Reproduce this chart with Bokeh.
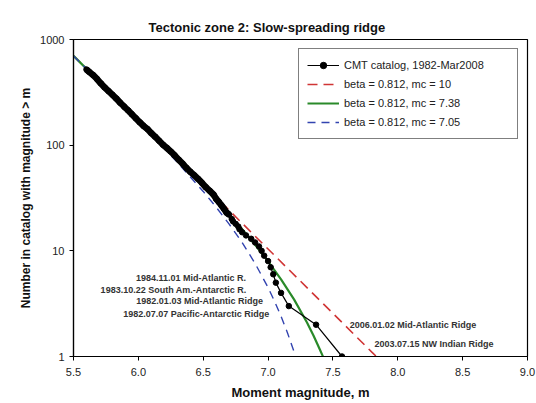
from bokeh.plotting import figure
from bokeh.models import (Range1d, FixedTicker, NumeralTickFormatter, Label,
                          Legend, LegendItem, ColumnDataSource)
from bokeh.embed import file_html
from bokeh.resources import INLINE

# ---------------- data ----------------
title_text = "Tectonic zone 2: Slow-spreading ridge"
x_title = "Moment magnitude, m"
y_title = "Number in catalog with magnitude > m"

x_ticks = [5.5, 6.0, 6.5, 7.0, 7.5, 8.0, 8.5, 9.0]
y_ticks = [1, 10, 100, 1000]

# CMT catalog cumulative counts (number with magnitude >= m)
cmt_mag = [5.60, 5.62, 5.65, 5.68, 5.71, 5.74, 5.77, 5.80, 5.83, 5.86, 5.89,
           5.92, 5.95, 5.98, 6.01, 6.04, 6.07, 6.10, 6.13, 6.16, 6.19, 6.22,
           6.25, 6.28, 6.31, 6.34, 6.37, 6.40, 6.43, 6.46, 6.49, 6.52, 6.55,
           6.58, 6.60, 6.62, 6.64, 6.66, 6.68, 6.70, 6.72, 6.73, 6.75, 6.77,
           6.78, 6.80, 6.83, 6.87, 6.90, 6.93, 6.95, 6.97, 7.00, 7.02, 7.04,
           7.06, 7.10, 7.16, 7.37, 7.57]
cmt_num = [520, 495, 462, 425, 385, 352, 325, 300, 276, 252, 232,
           214, 196, 180, 165, 152, 142, 130, 120, 110, 101, 94,
           87, 80, 73, 67, 61, 56, 52, 48, 44, 40, 37,
           34, 31, 29, 27, 25, 23, 22, 20, 19, 18, 17,
           16, 15, 14, 13, 12, 11, 10, 9, 8, 7, 6,
           5, 4, 3, 2, 1]

# tapered Gutenberg-Richter curves
red_mag = [5.5, 6.0, 6.5, 7.0, 7.5, 7.8, 7.85]
red_num = [700, 172, 42.4, 10.4, 2.56, 1.10, 0.96]

green_mag = [5.5, 5.7, 5.9, 6.1, 6.3, 6.5, 6.6, 6.7, 6.8, 6.9, 7.0, 7.1,
             7.2, 7.3, 7.35, 7.4, 7.42, 7.44]
green_num = [700, 398, 226, 128.5, 72.5, 40.4, 29.9, 22.0, 16.0, 11.4, 7.96,
             5.38, 3.47, 2.10, 1.58, 1.16, 1.02, 0.89]

blue_mag = [5.5, 5.7, 5.9, 6.1, 6.3, 6.5, 6.6, 6.7, 6.8, 6.9, 7.0, 7.05,
            7.1, 7.15, 7.2, 7.22]
blue_num = [700, 395, 224, 125, 69, 36.5, 25.9, 17.9, 12.0, 7.6, 4.5, 3.33,
            2.40, 1.67, 1.11, 0.93]

legend_labels = ["CMT catalog, 1982-Mar2008", "beta = 0.812, mc = 10",
                 "beta = 0.812, mc = 7.38", "beta = 0.812, mc = 7.05"]

left_notes = ["1984.11.01 Mid-Atlantic R.", "1983.10.22 South Am.-Antarctic R.",
              "1982.01.03 Mid-Atlantic Ridge", "1982.07.07 Pacific-Antarctic Ridge"]
left_notes_x = [6.83, 6.835, 6.96, 7.01]
left_notes_y = [5.55, 4.3, 3.33, 2.55]

right_notes = ["2006.01.02 Mid-Atlantic Ridge", "2003.07.15 NW Indian Ridge"]
right_notes_x = [7.63, 7.82]
right_notes_y = [2.0, 1.32]

FONT = "Liberation Sans"

p = figure(width=536, height=403, title=title_text,
           x_range=Range1d(5.5, 9.0), y_range=Range1d(1, 1000),
           y_axis_type="log", output_backend="svg", toolbar_location=None,
           min_border_left=73, min_border_right=9, min_border_top=39,
           min_border_bottom=47)
p.title.text_font = FONT
p.title.text_font_size = "13px"
p.title.text_font_style = "bold"
p.title.text_color = "#111111"
p.title.align = "left"
p.title.offset = 75
p.title.standoff = 10

p.grid.visible = False
p.outline_line_color = "black"
p.outline_line_width = 1.2
p.outline_line_alpha = 1.0
p.background_fill_color = "white"
p.border_fill_color = "white"

p.xaxis.ticker = FixedTicker(ticks=x_ticks)
p.xaxis.formatter = NumeralTickFormatter(format="0.0")
p.yaxis.ticker = FixedTicker(ticks=y_ticks)
p.yaxis.formatter = NumeralTickFormatter(format="0")
for ax in (p.xaxis, p.yaxis):
    ax.minor_tick_line_color = None
    ax.major_tick_in = 0
    ax.major_tick_out = 4
    ax.major_tick_line_color = "black"
    ax.axis_line_color = "black"
    ax.axis_line_width = 1.2
    ax.major_label_text_font = FONT
    ax.major_label_text_font_size = "11px"
    ax.major_label_text_color = "#222222"
    ax.axis_label_text_font = FONT
    ax.axis_label_text_font_style = "bold"
    ax.axis_label_text_color = "#111111"
p.xaxis.major_label_standoff = 7
p.yaxis.major_label_standoff = 5
p.xaxis.axis_label = x_title
p.yaxis.axis_label = y_title
p.xaxis.axis_label_text_font_size = "13px"
p.yaxis.axis_label_text_font_size = "12px"
p.xaxis.axis_label_standoff = 6
p.yaxis.axis_label_standoff = 4

# model curves
r_red = p.line(red_mag, red_num, line_color="#d03535", line_width=1.6,
               line_dash="10 6")
r_green = p.line(green_mag, green_num, line_color="#2a8a2a", line_width=2.2)
r_blue = p.line(blue_mag, blue_num, line_color="#3344b0", line_width=1.4,
                line_dash="8 6")

# data
src = ColumnDataSource(dict(m=cmt_mag, n=cmt_num))
dense = ColumnDataSource(dict(m=[v for v, c in zip(cmt_mag, cmt_num) if c >= 22],
                              n=[c for c in cmt_num if c >= 22]))
p.line("m", "n", source=dense, line_color="black", line_width=6.5)
r_cl = p.line("m", "n", source=src, line_color="black", line_width=1.2)
r_cp = p.scatter("m", "n", source=src, marker="circle", size=5.5,
                 fill_color="black", line_color="black")

legend = Legend(items=[
    LegendItem(label=legend_labels[0], renderers=[r_cl, r_cp]),
    LegendItem(label=legend_labels[1], renderers=[r_red]),
    LegendItem(label=legend_labels[2], renderers=[r_green]),
    LegendItem(label=legend_labels[3], renderers=[r_blue]),
], location="top_right")
legend.margin = 9
legend.padding = 8
legend.spacing = 3
legend.label_height = 16
legend.glyph_height = 16
legend.glyph_width = 32
legend.label_standoff = 5
legend.label_width = 165
legend.label_text_font = FONT
legend.label_text_font_size = "11px"
legend.label_text_color = "#222222"
legend.border_line_color = "black"
legend.border_line_width = 1
legend.background_fill_color = "white"
legend.background_fill_alpha = 1
p.add_layout(legend)

for t, x, y in zip(left_notes, left_notes_x, left_notes_y):
    p.add_layout(Label(x=x, y=y, text=t, text_align="right", text_baseline="middle",
                       text_font=FONT, text_font_size="9px", text_font_style="bold",
                       text_color="#333333"))
for t, x, y in zip(right_notes, right_notes_x, right_notes_y):
    p.add_layout(Label(x=x, y=y, text=t, text_align="left", text_baseline="middle",
                       text_font=FONT, text_font_size="9px", text_font_style="bold",
                       text_color="#333333"))

open("out.html", "w").write(file_html(p, INLINE))
